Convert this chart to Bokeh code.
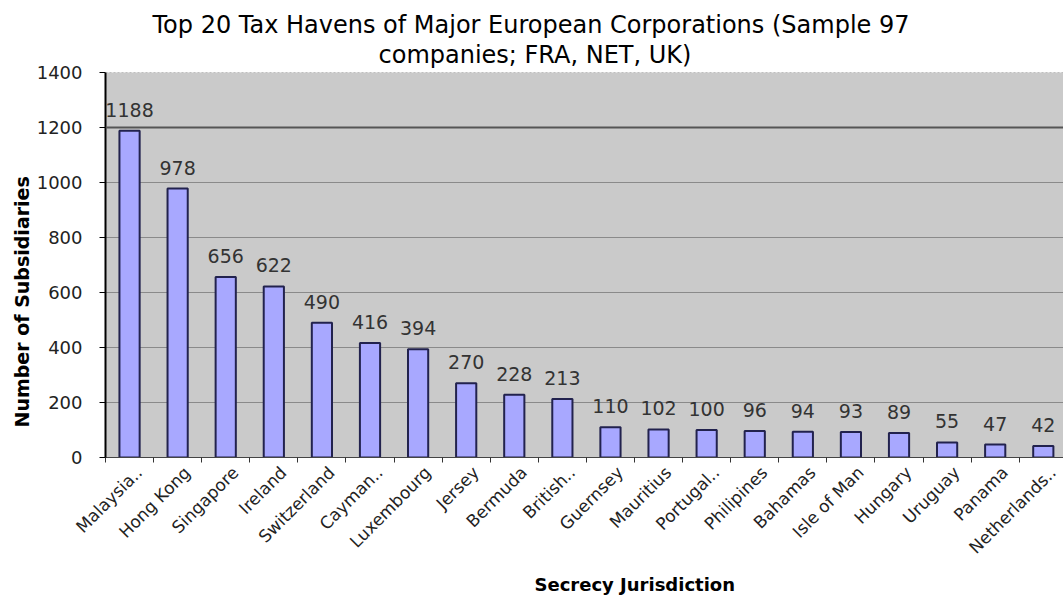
import math
from bokeh.plotting import figure
from bokeh.models import Range1d, FixedTicker, Span, Title, ColumnDataSource
from bokeh.embed import file_html
from bokeh.resources import INLINE
from bokeh.core.properties import value

categories = ["Malaysia..", "Hong Kong", "Singapore", "Ireland", "Switzerland",
              "Cayman..", "Luxembourg", "Jersey", "Bermuda", "British..",
              "Guernsey", "Mauritius", "Portugal..", "Philipines", "Bahamas",
              "Isle of Man", "Hungary", "Uruguay", "Panama", "Netherlands.."]
subsidiaries = [1188, 978, 656, 622, 490, 416, 394, 270, 228, 213,
                110, 102, 100, 96, 94, 93, 89, 55, 47, 42]
y_ticks = [0, 200, 400, 600, 800, 1000, 1200, 1400]
title_lines = ["Top 20 Tax Havens of Major European Corporations (Sample 97",
               "companies; FRA, NET, UK)"]
x_title = "Secrecy Jurisdiction"
y_title = "Number of Subsidiaries"

FONT = "DejaVu Sans"
centers = [i + 0.5 for i in range(len(categories))]
label_pos = [i + 0.7 for i in range(len(categories))]
bounds = [float(i) for i in range(len(categories) + 1)]

src = ColumnDataSource(dict(x=centers, y=subsidiaries,
                            lab=[str(v) for v in subsidiaries]))

p = figure(width=1063, height=598, output_backend="svg", toolbar_location=None,
           x_range=Range1d(0, 19.92), y_range=Range1d(0, 1400),
           min_border_left=105, min_border_right=0, min_border_top=72,
           min_border_bottom=141, title=None)
p.background_fill_color = "#CACACA"
p.border_fill_color = "white"
p.outline_line_color = None

p.vbar(x="x", top="y", width=0.42, bottom=0, source=src,
       fill_color="#A8A8FF", line_color="#22224e", line_width=2)

p.text(x="x", y="y", text="lab", source=src, text_align="center",
       text_baseline="bottom", y_offset=-14, text_font=value(FONT),
       text_font_size="19px", text_color="#333333")

# grid
p.xgrid.grid_line_color = None
p.ygrid.ticker = FixedTicker(ticks=y_ticks)
p.ygrid.grid_line_color = "#8a8a8a"
p.ygrid.grid_line_width = 1
p.add_layout(Span(location=1200, dimension="width", line_color="#555555", line_width=2))
p.add_layout(Span(location=1400, dimension="width", line_color="#9a9a9a",
                  line_width=1, line_dash="2 2"))

# y axis
ya = p.yaxis[0]
ya.ticker = FixedTicker(ticks=y_ticks)
ya.axis_line_color = "black"
ya.axis_line_width = 2
ya.major_tick_in = 0
ya.major_tick_out = 6
ya.minor_tick_line_color = None
ya.major_label_standoff = 17
ya.major_label_text_font = FONT
ya.major_label_text_font_size = "18px"
ya.major_label_text_color = "#222222"

# x axis
xa = p.xaxis[0]
xa.ticker = FixedTicker(ticks=label_pos, minor_ticks=bounds)
xa.major_label_overrides = {c: n for c, n in zip(label_pos, categories)}
xa.major_tick_line_color = None
xa.minor_tick_line_color = "#333333"
xa.minor_tick_in = 0
xa.minor_tick_out = 5
xa.axis_line_color = "#444444"
xa.major_label_orientation = math.pi / 4
xa.major_label_standoff = 6
xa.major_label_text_font = FONT
xa.major_label_text_font_size = "17px"
xa.major_label_text_color = "#222222"

# axis titles as side titles (allow offset positioning)
p.add_layout(Title(text=y_title, align="left", offset=30, standoff=2,
                   text_font=FONT, text_font_size="19px", text_font_style="bold",
                   text_color="black"), "left")
p.add_layout(Title(text=x_title, align="left", offset=429, standoff=8,
                   text_font=FONT, text_font_size="18px", text_font_style="bold",
                   text_color="black"), "below")

# chart title, two lines (second line nearest the plot is added first)
p.add_layout(Title(text=title_lines[1], align="left", offset=273, standoff=7,
                   text_font=FONT, text_font_size="24px", text_font_style="normal",
                   text_color="black"), "above")
p.add_layout(Title(text=title_lines[0], align="left", offset=47, standoff=-6,
                   text_font=FONT, text_font_size="24px", text_font_style="normal",
                   text_color="black"), "above")

open("out.html", "w").write(file_html(p, INLINE))
